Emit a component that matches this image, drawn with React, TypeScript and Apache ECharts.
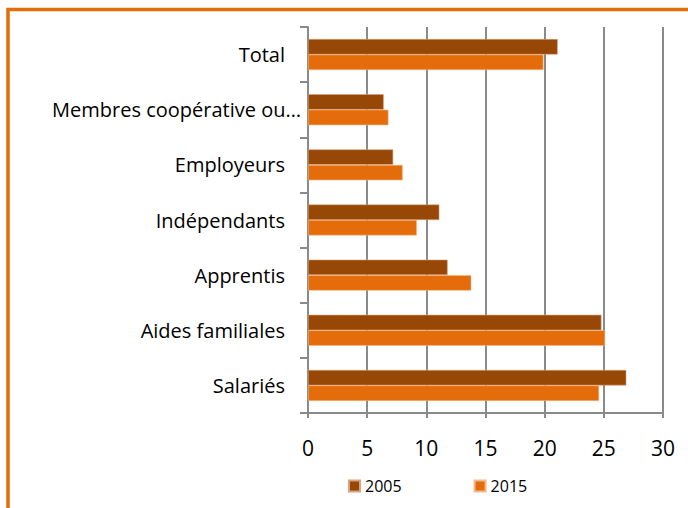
import React, { useEffect, useRef } from "react";
import * as echarts from "echarts";

const categories = [
  "Total",
  "Membres coopérative ou groupe de production",
  "Employeurs",
  "Indépendants",
  "Apprentis",
  "Aides familiales",
  "Salariés",
];
const series2005 = [21.1, 6.4, 7.2, 11.1, 11.8, 24.8, 26.9];
const series2015 = [19.9, 6.8, 8.0, 9.2, 13.8, 25.1, 24.6];
const seriesNames = ["2005", "2015"];
const xTicks = { min: 0, max: 30, interval: 5 };

const FONT = "'Open Sans', 'Noto Sans', sans-serif";
const MAX_CHARS = 22;

export default function App() {
  const ref = useRef<HTMLDivElement>(null);
  useEffect(() => {
    if (!ref.current) return;
    const chart = echarts.init(ref.current, null, { renderer: "svg" });
    chart.setOption({
      animation: false,
      backgroundColor: "#ffffff",
      textStyle: { fontFamily: FONT },
      graphic: [
        {
          type: "rect",
          shape: { x: 8, y: 9.5, width: 700, height: 600 },
          style: { fill: "none", stroke: "#E46C0A", lineWidth: 3.5 },
          silent: true,
        },
      ],
      legend: {
        data: seriesNames,
        left: 343,
        top: 473,
        itemWidth: 11,
        itemHeight: 11,
        itemGap: 72,
        icon: "rect",
        textStyle: { fontFamily: FONT, fontSize: 16, color: "#000" },
      },
      grid: { left: 308, top: 27, width: 355, height: 386, containLabel: false },
      xAxis: {
        type: "value",
        min: xTicks.min,
        max: xTicks.max,
        interval: xTicks.interval,
        axisLine: { show: true, lineStyle: { color: "#8a8a8a", width: 2 } },
        axisTick: { show: true, length: 5, lineStyle: { color: "#8a8a8a", width: 2 } },
        splitLine: { show: true, lineStyle: { color: "#8a8a8a", width: 2 } },
        axisLabel: { color: "#000", fontSize: 21, fontFamily: FONT, margin: 24 },
      },
      yAxis: {
        type: "category",
        data: categories,
        inverse: true,
        axisLine: { show: true, lineStyle: { color: "#8a8a8a", width: 2 } },
        axisTick: { show: true, length: 8, lineStyle: { color: "#8a8a8a", width: 2 } },
        axisLabel: {
          color: "#000",
          fontSize: 20,
          fontFamily: FONT,
          margin: 6,
          formatter: (v: string) =>
            v.length > MAX_CHARS + 2
              ? `{m|${v.slice(0, MAX_CHARS).trimEnd()}…}`
              : `{n|${v}}`,
          rich: {
            n: { fontSize: 20, fontFamily: FONT, color: "#000", padding: [0, 17, 0, 0] },
            m: { fontSize: 20, fontFamily: FONT, color: "#000", padding: [0, 1, 0, 0] },
          },
        },
      },
      series: [
        {
          name: seriesNames[0],
          type: "bar",
          data: series2005,
          barWidth: 15.5,
          barGap: "0%",
          itemStyle: { color: "#974706", borderColor: "#d9a27a", borderWidth: 0.6 },
        },
        {
          name: seriesNames[1],
          type: "bar",
          data: series2015,
          barWidth: 15.5,
          barGap: "0%",
          itemStyle: { color: "#E46C0A", borderColor: "#f4b98a", borderWidth: 0.6 },
        },
      ],
    });
    return () => chart.dispose();
  }, []);
  return (
    <div
      ref={ref}
      style={{ position: "fixed", left: 0, top: 0, width: 688, height: 508 }}
    />
  );
}
